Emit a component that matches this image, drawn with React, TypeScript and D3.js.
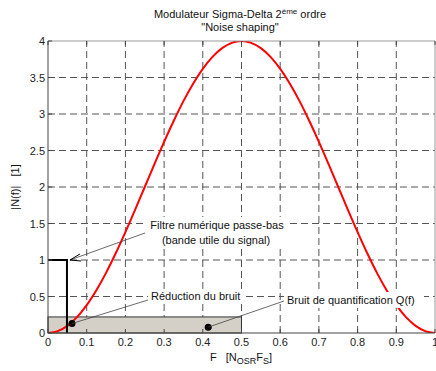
import React from "react";
import * as d3 from "d3";

// Data
const freqs = [0, 0.025, 0.05, 0.075, 0.1, 0.125, 0.15, 0.175, 0.2, 0.225, 0.25, 0.275, 0.3, 0.325, 0.35, 0.375, 0.4, 0.425, 0.45, 0.475, 0.5,
  0.525, 0.55, 0.575, 0.6, 0.625, 0.65, 0.675, 0.7, 0.725, 0.75, 0.775, 0.8, 0.825, 0.85, 0.875, 0.9, 0.925, 0.95, 0.975, 1];
const gains = [0, 0.025, 0.098, 0.218, 0.382, 0.586, 0.824, 1.092, 1.382, 1.687, 2.0, 2.313, 2.618, 2.908, 3.176, 3.414, 3.618, 3.782, 3.902, 3.975, 4,
  3.975, 3.902, 3.782, 3.618, 3.414, 3.176, 2.908, 2.618, 2.313, 2.0, 1.687, 1.382, 1.092, 0.824, 0.586, 0.382, 0.218, 0.098, 0.025, 0];
const xTicks = [0, 0.1, 0.2, 0.3, 0.4, 0.5, 0.6, 0.7, 0.8, 0.9, 1];
const yTicks = [0, 0.5, 1, 1.5, 2, 2.5, 3, 3.5, 4];
const filterX = [0, 0.049, 0.049];
const filterY = [1, 1, 0];
const noiseBand = [0, 0.5, 0.22]; // x0, x1, height
const dotsX = [0.062, 0.414];
const dotsY = [0.13, 0.08];

const W = 436, H = 371;
const FONT = "'Liberation Sans', Arial, Helvetica, sans-serif";

export default function App() {
  const x = d3.scaleLinear().domain([0, 1]).range([48, 435]);
  const y = d3.scaleLinear().domain([0, 4]).range([333, 41]);
  const line = d3.line<number>().x((_, i) => x(freqs[i])).y((d) => y(d)).curve(d3.curveCatmullRom);
  const fline = d3.line<number>().x((d) => x(d)).y((_, i) => y(filterY[i]));

  const grid = "#555";
  const dash = "7,4";

  return (
    <svg width={W} height={H} style={{ position: "absolute", left: 0, top: 0, background: "#fff" }} fontFamily={FONT}>
      <defs>
        <clipPath id="plot"><rect x={48} y={41} width={387} height={292} /></clipPath>
      </defs>
      {/* grid */}
      {xTicks.slice(1, -1).map((t) => (
        <line key={"gx" + t} x1={x(t)} x2={x(t)} y1={y(0)} y2={y(4)} stroke={grid} strokeDasharray={dash} strokeWidth={1} />
      ))}
      {yTicks.slice(1, -1).map((t) => (
        <line key={"gy" + t} y1={y(t)} y2={y(t)} x1={x(0)} x2={x(1)} stroke={grid} strokeDasharray={dash} strokeWidth={1} />
      ))}
      {/* noise band */}
      <rect x={x(noiseBand[0])} y={y(noiseBand[2])} width={x(noiseBand[1]) - x(noiseBand[0])} height={y(0) - y(noiseBand[2])}
        fill="#d4d0c8" stroke="#333" strokeWidth={1} />
      {/* curve */}
      <path d={line(gains) || ""} fill="none" stroke="#ff0000" strokeWidth={2} clipPath="url(#plot)" />
      {/* filter */}
      <path d={fline(filterX) || ""} fill="none" stroke="#000" strokeWidth={2} />
      {/* axes box */}
      <line x1={x(0)} x2={x(1)} y1={y(4)} y2={y(4)} stroke="#999" />
      <line x1={x(1)} x2={x(1)} y1={y(0)} y2={y(4)} stroke="#999" />
      <line x1={x(0)} x2={x(1)} y1={y(0)} y2={y(0)} stroke="#444" />
      <line x1={x(0)} x2={x(0)} y1={y(0)} y2={y(4)} stroke="#444" />
      {xTicks.map((t) => (
        <g key={"xt" + t}>
          <line x1={x(t)} x2={x(t)} y1={y(0)} y2={y(0) - 4} stroke="#444" />
          <line x1={x(t)} x2={x(t)} y1={y(4)} y2={y(4) + 4} stroke="#444" />
          <text x={x(t)} y={346} fontSize={11} textAnchor="middle" fill="#222">{String(t)}</text>
        </g>
      ))}
      {yTicks.map((t) => (
        <g key={"yt" + t}>
          <line x1={x(0)} x2={x(0) + 4} y1={y(t)} y2={y(t)} stroke="#444" />
          <text x={45} y={y(t) + 4} fontSize={11} textAnchor="end" fill="#222">{String(t)}</text>
        </g>
      ))}
      {/* dots */}
      {dotsX.map((d, i) => (
        <circle key={"dot" + i} cx={x(d)} cy={y(dotsY[i])} r={3.5} fill="#000" />
      ))}
      {/* annotation leaders */}
      <line x1={145} y1={233} x2={x(filterX[1]) + 3} y2={y(1)} stroke="#444" strokeWidth={0.8} />
      <path d={`M${x(filterX[1]) + 13},${y(1) - 6} L${x(filterX[1]) + 3},${y(1)} L${x(filterX[1]) + 14},${y(1) + 1}`} fill="none" stroke="#000" strokeWidth={1} />
      <line x1={148} y1={300} x2={x(dotsX[0])} y2={y(dotsY[0])} stroke="#444" strokeWidth={0.8} />
      <line x1={284} y1={301} x2={x(dotsX[1])} y2={y(dotsY[1])} stroke="#444" strokeWidth={0.8} />
      {/* annotation boxes */}
      <rect x={146} y={217} width={143} height={31} fill="#fff" />
      <text x={217} y={229} fontSize={11} textAnchor="middle" fill="#111">Filtre numérique passe-bas</text>
      <text x={216} y={244} fontSize={11} textAnchor="middle" fill="#111">(bande utile du signal)</text>
      <rect x={148} y={289} width={98} height={15} fill="#fff" />
      <text x={151} y={300} fontSize={11} fill="#111">Réduction du bruit</text>
      <rect x={284} y={292} width={140} height={16} fill="#fff" />
      <text x={287} y={304} fontSize={11} fill="#111">Bruit de quantification Q(f)</text>
      {/* titles */}
      <text x={240} y={18} fontSize={11} textAnchor="middle" fill="#111">
        Modulateur Sigma-Delta 2<tspan fontSize={8} dy={-4}>ème</tspan><tspan dy={4}> ordre</tspan>
      </text>
      <text x={240} y={31} fontSize={11} textAnchor="middle" fill="#111">"Noise shaping"</text>
      <text x={241} y={361} fontSize={11} textAnchor="middle" fill="#111" xmlSpace="preserve">
        {"F   [N"}<tspan fontSize={9} dy={3}>OSR</tspan><tspan dy={-3}>F</tspan><tspan fontSize={9} dy={3}>S</tspan><tspan dy={-3}>]</tspan>
      </text>
      <text transform="translate(19,187) rotate(-90)" fontSize={11} textAnchor="middle" fill="#111" xmlSpace="preserve">{"|N(f)|   [1]"}</text>
    </svg>
  );
}
